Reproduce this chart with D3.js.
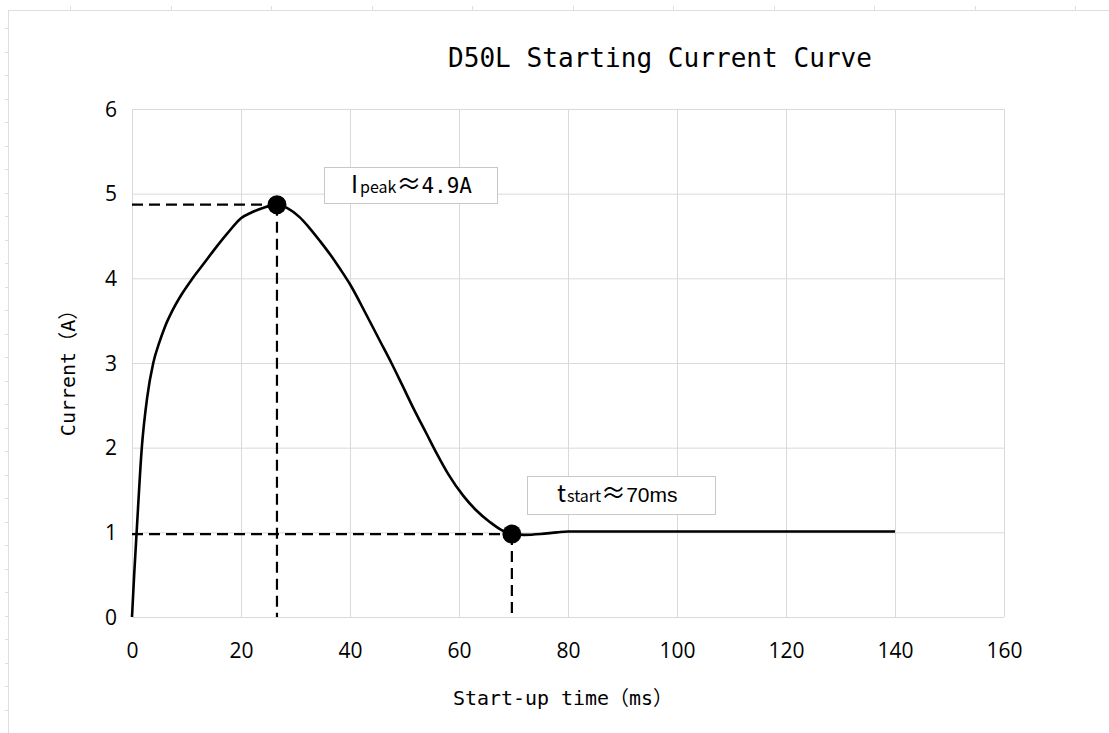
<!DOCTYPE html>
<html>
<head>
<meta charset="utf-8">
<script src="https://cdn.jsdelivr.net/npm/d3@7"></script>
<style>
  html, body { margin: 0; padding: 0; background: #ffffff; }
  svg { display: block; }
</style>
</head>
<body>
<script>
// ---- data ----
const timeMs = [0, 0.4, 0.85, 1.8, 2.8, 3.9, 5, 6, 7.5, 9, 11, 13, 15, 17.5, 20, 22, 24, 26.6, 28.5, 30.8, 32.5, 34.5, 36.5, 38.2, 40, 43, 45.5, 47.6, 49.5, 51.6, 54, 56, 58, 60.8, 63, 65.7, 68, 69.7, 72, 75, 78, 80, 90, 100, 110, 120, 130, 140];
const currentA = [0, 0.5, 1.0, 2.0, 2.6, 3.0, 3.24, 3.42, 3.63, 3.8, 3.99, 4.16, 4.33, 4.53, 4.71, 4.78, 4.83, 4.87, 4.83, 4.72, 4.6, 4.44, 4.27, 4.11, 3.93, 3.57, 3.26, 3.0, 2.75, 2.47, 2.17, 1.92, 1.69, 1.43, 1.27, 1.12, 1.02, 0.98, 0.97, 0.98, 1.0, 1.01, 1.01, 1.01, 1.01, 1.01, 1.01, 1.01];
const xTicks = [0, 20, 40, 60, 80, 100, 120, 140, 160];
const yTicks = [0, 1, 2, 3, 4, 5, 6];
const markerT = [26.6, 69.7];
const markerI = [4.87, 0.98];
const peakLabelValue = "4.9A";
const startLabelValue = "70ms";
const titleText = "D50L Starting Current Curve";
const xTitle = "Start-up time（ms）";
const yTitle = "Current（A）";

// ---- layout ----
const W = 1109, H = 733;
const svg = d3.select("body").append("svg").attr("width", W).attr("height", H);
svg.append("rect").attr("width", W).attr("height", H).attr("fill", "#fff");

// faint page frame (decorative)
const frame = svg.append("g").attr("stroke", "#dedede").attr("stroke-width", 1);
frame.append("line").attr("x1", 8).attr("x2", W).attr("y1", 10.5).attr("y2", 10.5);
frame.append("line").attr("x1", 8.5).attr("x2", 8.5).attr("y1", 10).attr("y2", H);
frame.selectAll(".tt").data(d3.range(70, W, 100.5)).join("line")
  .attr("x1", d => Math.round(d) + 0.5).attr("x2", d => Math.round(d) + 0.5).attr("y1", 6).attr("y2", 10);
frame.selectAll(".lt").data(d3.range(28, H, 23.5)).join("line")
  .attr("x1", 5).attr("x2", 8).attr("y1", d => Math.round(d) + 0.5).attr("y2", d => Math.round(d) + 0.5);

const x = d3.scaleLinear().domain([0, 160]).range([132, 1004]);
const y = d3.scaleLinear().domain([0, 6]).range([617, 109]);

const gridColor = "#d9d9d9";
svg.append("g").attr("transform", `translate(0,${y(0)})`)
  .call(d3.axisBottom(x).tickValues(xTicks).tickSize(-(y(0) - y(6))).tickFormat(""))
  .call(g => g.select(".domain").remove())
  .call(g => g.selectAll(".tick line").attr("stroke", gridColor).attr("stroke-width", 1));
svg.append("g").attr("transform", `translate(${x(0)},0)`)
  .call(d3.axisLeft(y).tickValues(yTicks).tickSize(-(x(160) - x(0))).tickFormat(""))
  .call(g => g.select(".domain").remove())
  .call(g => g.selectAll(".tick line").attr("stroke", gridColor).attr("stroke-width", 1));

// tick labels
const tickFont = "'Open Sans', 'Noto Sans', sans-serif";
svg.append("g").attr("transform", `translate(0,${y(0)})`)
  .call(d3.axisBottom(x).tickValues(xTicks).tickSize(0).tickPadding(26).tickFormat(d3.format("d")))
  .call(g => g.select(".domain").remove())
  .call(g => g.selectAll("text").attr("font-family", tickFont).attr("font-size", 21).attr("fill", "#000"));
svg.append("g").attr("transform", `translate(${x(0)},0)`)
  .call(d3.axisLeft(y).tickValues(yTicks).tickSize(0).tickPadding(15).tickFormat(d3.format("d")))
  .call(g => g.select(".domain").remove())
  .call(g => g.selectAll("text").attr("font-family", tickFont).attr("font-size", 21).attr("fill", "#000").attr("dy", "0.34em"));

// dashed guide lines
const guides = svg.append("g").attr("stroke", "#000").attr("stroke-width", 2.2).attr("stroke-dasharray", "11,6").attr("fill", "none");
markerT.forEach((t, i) => {
  guides.append("line").attr("x1", x(0)).attr("x2", x(t)).attr("y1", y(markerI[i])).attr("y2", y(markerI[i]));
  guides.append("line").attr("x1", x(t)).attr("x2", x(t)).attr("y1", y(markerI[i])).attr("y2", y(0));
});

// curve
const pts = timeMs.map((t, i) => [t, currentA[i]]);
const line = d3.line().x(d => x(d[0])).y(d => y(d[1])).curve(d3.curveMonotoneX);
svg.append("path").datum(pts).attr("d", line)
  .attr("fill", "none").attr("stroke", "#000").attr("stroke-width", 2.6).attr("stroke-linejoin", "round");

// markers
svg.append("g").selectAll("circle").data(markerT).join("circle")
  .attr("cx", d => x(d)).attr("cy", (d, i) => y(markerI[i])).attr("r", 9.5).attr("fill", "#000");

// annotation boxes
const cjk = "'Noto Sans CJK SC', 'Noto Sans', sans-serif";
const mono = "'DejaVu Sans Mono', monospace";
function box(x0, y0, w, h) {
  svg.append("rect").attr("x", x0 + 0.5).attr("y", y0 + 0.5).attr("width", w).attr("height", h)
    .attr("fill", "#fff").attr("stroke", "#c8c8c8").attr("stroke-width", 1);
}
box(324, 167, 173, 36);
const t1 = svg.append("text").attr("x", 351).attr("y", 193).attr("fill", "#000");
t1.append("tspan").attr("font-family", cjk).attr("font-size", 24).text("I");
t1.append("tspan").attr("font-family", cjk).attr("font-size", 16).attr("dx", 2).text("peak");
t1.append("tspan").attr("font-family", cjk).attr("font-size", 25).text("≈");
t1.append("tspan").attr("font-family", mono).attr("font-size", 21).text(peakLabelValue);

box(527, 476, 188, 38);
const t2 = svg.append("text").attr("x", 557).attr("y", 502).attr("fill", "#000");
t2.append("tspan").attr("font-family", cjk).attr("font-size", 24).text("t");
t2.append("tspan").attr("font-family", cjk).attr("font-size", 16).attr("dx", 1).text("start");
t2.append("tspan").attr("font-family", cjk).attr("font-size", 25).text("≈");
t2.append("tspan").attr("font-family", "'Liberation Sans', Arial, sans-serif").attr("font-size", 21).text(startLabelValue);

// titles
svg.append("text").attr("x", 660).attr("y", 67).attr("text-anchor", "middle")
  .attr("font-family", mono).attr("font-size", 27).attr("fill", "#000")
  .attr("textLength", 424).attr("lengthAdjust", "spacingAndGlyphs").text(titleText);
svg.append("text").attr("x", 563).attr("y", 705).attr("text-anchor", "middle")
  .attr("font-family", mono + ", " + cjk).attr("font-size", 20).attr("fill", "#000")
  .attr("textLength", 220).attr("lengthAdjust", "spacingAndGlyphs").text(xTitle);
svg.append("text").attr("transform", "translate(75,368) rotate(-90)").attr("text-anchor", "middle")
  .attr("font-family", mono + ", " + cjk).attr("font-size", 20).attr("fill", "#000")
  .text(yTitle);
</script>
</body>
</html>
